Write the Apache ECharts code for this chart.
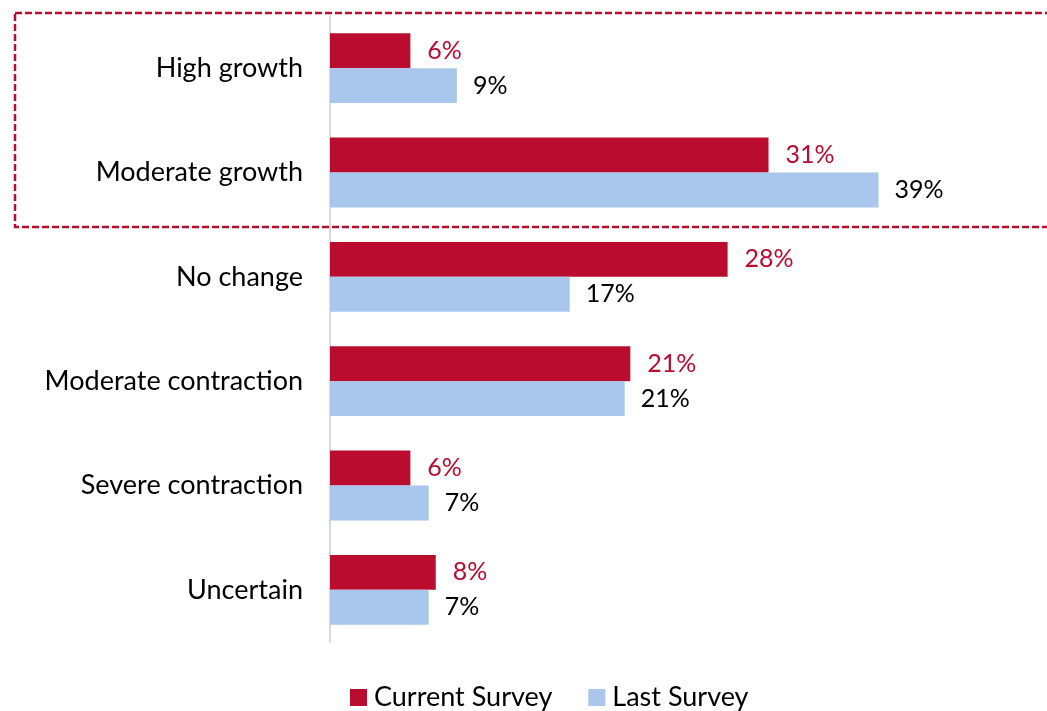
<!DOCTYPE html>
<html>
<head>
<meta charset="utf-8">
<script src="https://cdn.jsdelivr.net/npm/echarts@6/dist/echarts.min.js"></script>
<style>
html,body{margin:0;padding:0;background:#fff;}
#chart{width:1047px;height:711px;}
</style>
</head>
<body>
<div id="chart"></div>
<script>
var categories = ["High growth", "Moderate growth", "No change", "Moderate contraction", "Severe contraction", "Uncertain"];
var currentSurvey = [5.7, 31.1, 28.2, 21.3, 5.7, 7.5];
var lastSurvey = [9.0, 38.9, 17.0, 20.9, 7.0, 7.0];
var seriesNames = ["Current Survey", "Last Survey"];

var FONT = "Lato";
var RED = "#BA0C2F";
var BLUE = "#A9C6EC";

var chart = echarts.init(document.getElementById('chart'));
chart.setOption({
  animation: false,
  textStyle: {fontFamily: FONT},
  grid: {left: 330, right: 153, top: 16, bottom: 69},
  xAxis: {
    type: 'value', min: 0, max: 40,
    show: false
  },
  yAxis: {
    type: 'category',
    data: categories,
    inverse: true,
    axisLine: {show: true, lineStyle: {color: '#D9D9D9', width: 2}},
    axisTick: {show: false},
    axisLabel: {color: '#000', fontSize: 27, fontFamily: FONT, margin: 27}
  },
  legend: {
    top: 679, left: 345,
    itemWidth: 17, itemHeight: 17, itemGap: 36,
    icon: 'rect',
    textStyle: {fontSize: 27, fontFamily: FONT, color: '#000', padding: [0, 0, 0, 2]},
    data: seriesNames
  },
  series: [
    {
      name: seriesNames[0], type: 'bar', data: currentSurvey,
      barGap: '0%', barCategoryGap: '33%',
      itemStyle: {color: RED},
      label: {show: true, position: 'right', distance: 17, color: RED, fontSize: 25, fontFamily: FONT,
        formatter: function(p){return Math.round(p.value) + '%';}}
    },
    {
      name: seriesNames[1], type: 'bar', data: lastSurvey,
      barGap: '0%', barCategoryGap: '33%',
      itemStyle: {color: BLUE},
      label: {show: true, position: 'right', distance: 16, color: '#000', fontSize: 25, fontFamily: FONT,
        formatter: function(p){return Math.round(p.value) + '%';}}
    }
  ],
  graphic: [{
    type: 'rect', z: 100,
    shape: {x: 15, y: 13, width: 1040, height: 214},
    style: {fill: 'none', stroke: RED, lineWidth: 2.5, lineDash: [7, 3]}
  }]
});
</script>
</body>
</html>
